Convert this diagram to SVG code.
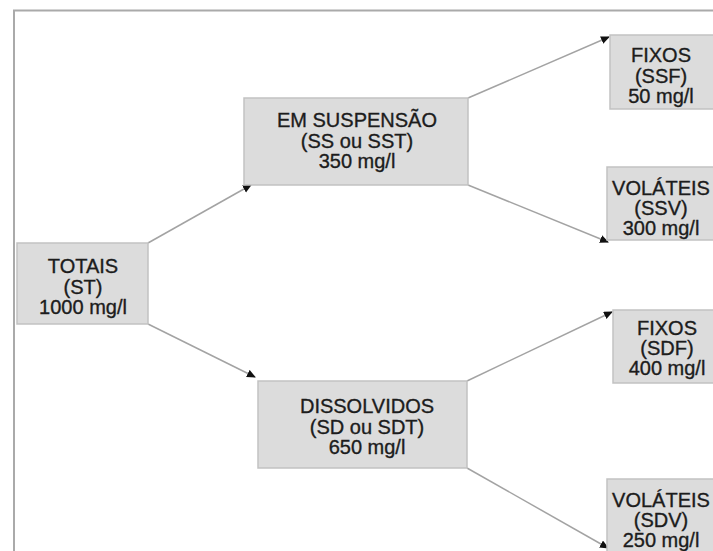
<svg xmlns="http://www.w3.org/2000/svg" width="713" height="551" viewBox="0 0 713 551">
<style>
.box{fill:#dcdcdc;stroke:#c2c2c2;stroke-width:1.5}
.t{font-family:"Liberation Sans",Arial,sans-serif;font-size:20px;fill:#1c1c1c;stroke:#1c1c1c;stroke-width:0.35;text-anchor:middle}
.c{stroke:#a3a3a3;stroke-width:1.5;fill:none;marker-end:url(#ah)}
.frame{stroke:#aaaaaa;stroke-width:2;fill:none}
</style>
<defs>
<marker id="ah" markerUnits="userSpaceOnUse" markerWidth="10" markerHeight="10" refX="8" refY="4" orient="auto">
<path d="M0,0 L9,4 L0,8 Z" fill="#111"/>
</marker>
</defs>
<rect width="713" height="551" fill="#fff"/>
<path class="frame" d="M14,551 L14,10.5 L713,10.5"/>
<g id="connectors">
<line class="c" x1="148" y1="243" x2="251" y2="185"/>
<line class="c" x1="148" y1="324" x2="255" y2="377"/>
<line class="c" x1="468" y1="98" x2="609" y2="37"/>
<line class="c" x1="468" y1="185" x2="608" y2="242"/>
<line class="c" x1="467" y1="381" x2="612" y2="312"/>
<line class="c" x1="467" y1="468" x2="608" y2="548"/>
</g>
<g id="totais">
<rect class="box" x="17" y="243" width="131" height="81"/>
<text class="t" x="83" y="273">TOTAIS</text>
<text class="t" x="83" y="293.5">(ST)</text>
<text class="t" x="83" y="314">1000 mg/l</text>
</g>
<g id="suspensao">
<rect class="box" x="244" y="98" width="224" height="87"/>
<text class="t" x="357" y="127">EM SUSPENSÃO</text>
<text class="t" x="357" y="147.5">(SS ou SST)</text>
<text class="t" x="357" y="168">350 mg/l</text>
</g>
<g id="dissolvidos">
<rect class="box" x="258" y="381" width="209" height="87"/>
<text class="t" x="367" y="413">DISSOLVIDOS</text>
<text class="t" x="367" y="433.5">(SD ou SDT)</text>
<text class="t" x="367" y="454">650 mg/l</text>
</g>
<g id="ssf">
<rect class="box" x="610" y="35" width="106" height="74"/>
<text class="t" x="661" y="62">FIXOS</text>
<text class="t" x="661" y="82.5">(SSF)</text>
<text class="t" x="661" y="103">50 mg/l</text>
</g>
<g id="ssv">
<rect class="box" x="607" y="167" width="109" height="73"/>
<text class="t" x="661" y="195">VOLÁTEIS</text>
<text class="t" x="661" y="215">(SSV)</text>
<text class="t" x="661" y="235">300 mg/l</text>
</g>
<g id="sdf">
<rect class="box" x="613" y="310" width="103" height="73"/>
<text class="t" x="667" y="335">FIXOS</text>
<text class="t" x="667" y="355">(SDF)</text>
<text class="t" x="667" y="375">400 mg/l</text>
</g>
<g id="sdv">
<rect class="box" x="607" y="479" width="109" height="80"/>
<text class="t" x="661" y="506.5">VOLÁTEIS</text>
<text class="t" x="661" y="526.5">(SDV)</text>
<text class="t" x="661" y="546.5">250 mg/l</text>
</g>
</svg>
